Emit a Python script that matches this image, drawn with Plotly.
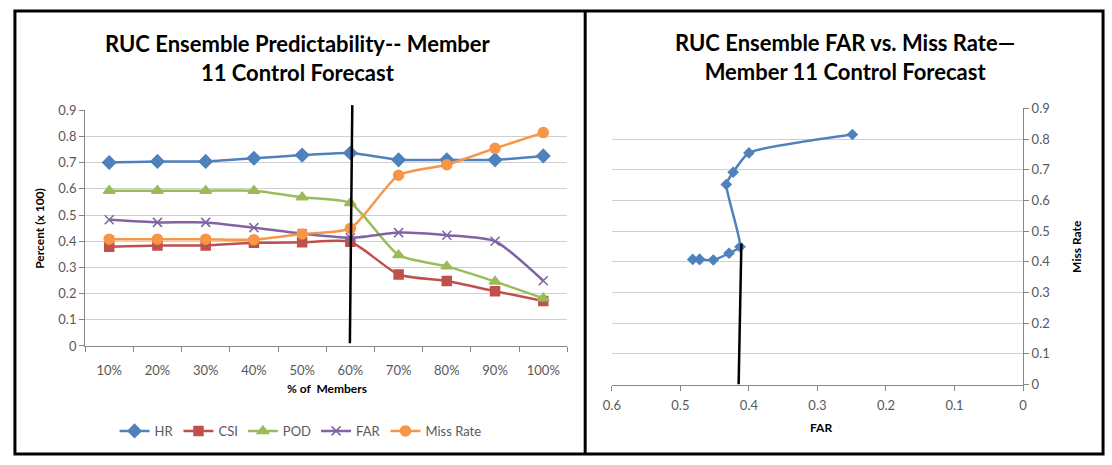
import plotly.graph_objects as go

W, H = 1112, 465

categories = ["10%", "20%", "30%", "40%", "50%", "60%", "70%", "80%", "90%", "100%"]
hr = [0.701, 0.705, 0.705, 0.717, 0.729, 0.737, 0.711, 0.711, 0.711, 0.726]
csi = [0.379, 0.384, 0.384, 0.394, 0.396, 0.398, 0.273, 0.248, 0.209, 0.172]
pod = [0.593, 0.593, 0.593, 0.593, 0.568, 0.546, 0.347, 0.304, 0.246, 0.182]
far = [0.482, 0.472, 0.472, 0.452, 0.429, 0.413, 0.433, 0.423, 0.400, 0.249]
miss_rate = [0.408, 0.408, 0.408, 0.406, 0.428, 0.449, 0.652, 0.692, 0.755, 0.815]

y_ticks = [0, 0.1, 0.2, 0.3, 0.4, 0.5, 0.6, 0.7, 0.8, 0.9]
far_ticks = [0.6, 0.5, 0.4, 0.3, 0.2, 0.1, 0]

FONT = "Lato"
TICK_COL = "#595959"
AX_COL = "#868686"
GRID_COL = "#cfcfcf"

idx = list(range(len(categories)))

series = [
    ("HR", hr, "#4F81BD", "diamond", 10),
    ("CSI", csi, "#C0504D", "square", 9),
    ("POD", pod, "#9BBB59", "triangle-up", 10),
    ("FAR", far, "#8064A2", "x-thin-open", 9),
    ("Miss Rate", miss_rate, "#F79646", "circle", 10),
]

fig = go.Figure()
for name, vals, col, sym, sz in series:
    fig.add_trace(go.Scatter(
        x=idx, y=vals, name=name, mode="lines+markers",
        line=dict(color=col, width=2.5, shape="spline", smoothing=0.6),
        marker=dict(symbol=sym, size=sz, color=col,
                    line=dict(color=col, width=1.5)),
        xaxis="x", yaxis="y", cliponaxis=False,
    ))

fig.add_trace(go.Scatter(
    x=far, y=miss_rate, name="FAR vs Miss Rate", mode="lines+markers",
    line=dict(color="#4F81BD", width=2.5, shape="spline", smoothing=0.5),
    marker=dict(symbol="diamond", size=9, color="#4F81BD"),
    xaxis="x2", yaxis="y2", showlegend=False, cliponaxis=False,
))

def px(x):
    return x / W

def py(y):
    return 1 - y / H

tickfont = dict(family=FONT, size=13, color=TICK_COL)

fig.update_layout(
    width=W, height=H,
    margin=dict(l=0, r=0, t=0, b=0),
    paper_bgcolor="white", plot_bgcolor="white",
    showlegend=True,
    legend=dict(orientation="h", x=px(295), y=py(438), xanchor="center",
                yanchor="middle", font=dict(family=FONT, size=13, color=TICK_COL),
                itemwidth=30, bgcolor="rgba(0,0,0,0)"),
    xaxis=dict(domain=[px(77), px(565)], range=[-0.5, 9.5], anchor="y",
               tickmode="array", tickvals=idx, ticktext=categories,
               ticks="", ticklabelstandoff=12, tickfont=tickfont,
               showline=True, linecolor=AX_COL, linewidth=1,
               showgrid=False, zeroline=False,
               minor=dict(tick0=-0.5, dtick=1, ticks="outside", ticklen=5,
                          tickcolor=AX_COL, showgrid=False)),
    yaxis=dict(domain=[py(350), py(106)], range=[0, 0.9], anchor="x",
               tickmode="array", tickvals=y_ticks,
               ticks="outside", ticklen=5, tickcolor=AX_COL,
               tickfont=tickfont, showline=True, linecolor=AX_COL,
               showgrid=True, gridcolor=GRID_COL, gridwidth=1, zeroline=False),
    xaxis2=dict(domain=[px(610), px(1026)], range=[0.6, 0], anchor="y2",
                tickmode="array", tickvals=far_ticks,
                ticks="outside", ticklen=5, tickcolor=AX_COL,
                ticklabelstandoff=4, tickfont=tickfont,
                showline=True, linecolor=AX_COL, showgrid=False, zeroline=False),
    yaxis2=dict(domain=[py(390), py(104)], range=[0, 0.9], anchor="x2",
                side="right", tickmode="array", tickvals=y_ticks,
                ticks="outside", ticklen=5, tickcolor=AX_COL,
                tickfont=tickfont, showline=True, linecolor=AX_COL,
                showgrid=True, gridcolor=GRID_COL, gridwidth=1, zeroline=False),
)

title_font = dict(family=FONT, size=22, color="black")
axis_title_font = dict(family=FONT, size=12, color="black")
fig.update_layout(annotations=[
    dict(text="<b>RUC Ensemble Predictability-- Member<br>11 Control Forecast</b>",
         x=px(292), y=py(52), xref="paper", yref="paper", showarrow=False,
         font=title_font, xanchor="center", yanchor="middle"),
    dict(text="<b>RUC Ensemble FAR vs. Miss Rate—<br>Member 11 Control Forecast</b>",
         x=px(846), y=py(51), xref="paper", yref="paper", showarrow=False,
         font=title_font, xanchor="center", yanchor="middle"),
    dict(text="<b>Percent (x 100)</b>", x=px(31), y=py(228), xref="paper", yref="paper",
         showarrow=False, textangle=-90, font=axis_title_font,
         xanchor="center", yanchor="middle"),
    dict(text="<b>% of  Members</b>", x=px(322), y=py(394), xref="paper", yref="paper",
         showarrow=False, font=axis_title_font, xanchor="center", yanchor="middle"),
    dict(text="<b>FAR</b>", x=px(822), y=py(434), xref="paper", yref="paper",
         showarrow=False, font=axis_title_font, xanchor="center", yanchor="middle"),
    dict(text="<b>Miss Rate</b>", x=px(1080), y=py(247), xref="paper", yref="paper",
         showarrow=False, textangle=-90, font=axis_title_font,
         xanchor="center", yanchor="middle"),
])

fig.update_layout(shapes=[
    # 60% threshold marker line (left chart)
    dict(type="line", xref="x", yref="y domain", x0=4.99, y0=0.01 / 0.9,
         x1=5.04, y1=0.92 / 0.9, line=dict(color="black", width=2.5)),
    # threshold marker line (right chart)
    dict(type="line", xref="x2", yref="y2", x0=0.415, y0=0, x1=0.411, y1=0.46,
         line=dict(color="black", width=2.5)),
    # panel frames
    dict(type="rect", xref="paper", yref="paper", x0=px(6), x1=px(1107),
         y0=py(462), y1=py(3), line=dict(color="black", width=3)),
    dict(type="line", xref="paper", yref="paper", x0=px(583), x1=px(583),
         y0=py(462), y1=py(3), line=dict(color="black", width=3)),
])

fig.write_html(
    "out.html",
    config={"displayModeBar": False},
    post_script="document.body.style.margin='0';document.body.style.overflow='hidden';",
)
